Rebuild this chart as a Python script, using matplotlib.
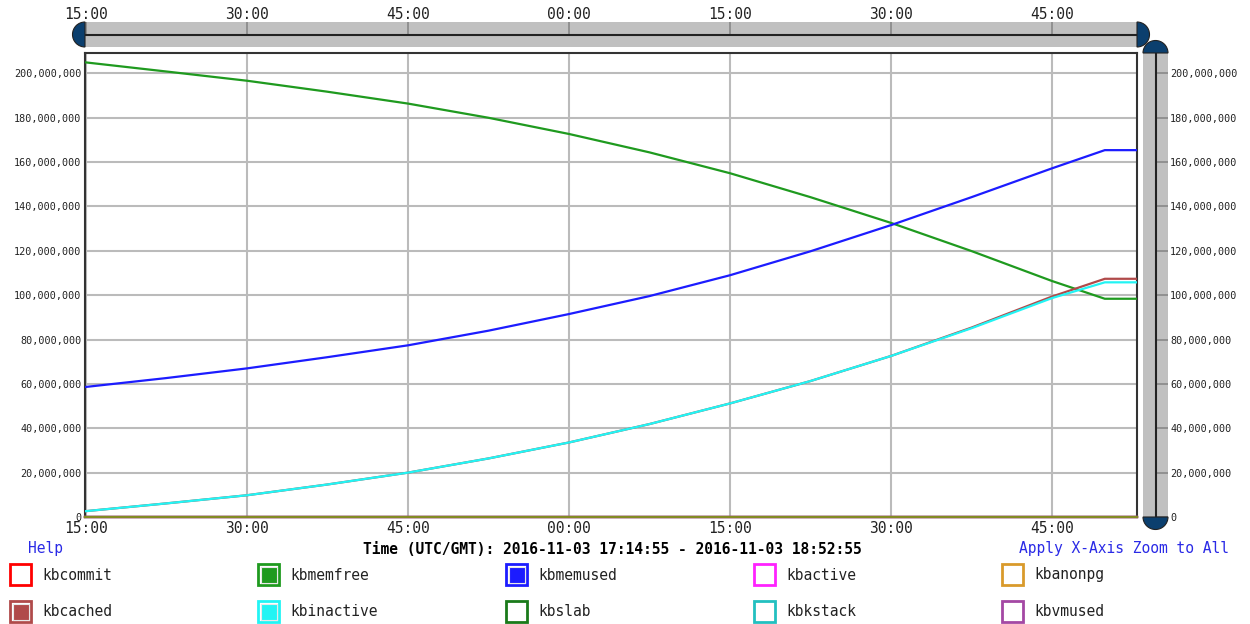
import matplotlib
matplotlib.use("Agg")
import matplotlib.pyplot as plt
import matplotlib.dates as mdates
import matplotlib.ticker as mticker
from matplotlib.patches import Wedge, Rectangle
import numpy as np
import pandas as pd

plt.rcParams["font.family"] = "DejaVu Sans Mono"

# sample times (UTC) and values in millions of kB
times = ["17:14:55", "17:22:25", "17:30:00", "17:37:25", "17:45:00", "17:52:30",
         "18:00:00", "18:07:30", "18:15:00", "18:22:30", "18:30:00", "18:37:30",
         "18:45:00", "18:49:55", "18:52:55"]
kbmemfree = [205.0, 200.9, 196.7, 191.8, 186.4, 180.0, 172.7, 164.4, 155.0, 144.2,
             132.6, 119.9, 106.4, 98.4, 98.4]
kbmemused = [58.6, 62.6, 67.0, 72.0, 77.4, 84.0, 91.5, 99.6, 109.0, 119.8,
             131.6, 144.2, 157.2, 165.4, 165.4]
kbcached = [2.6, 6.1, 9.8, 14.6, 20.0, 26.4, 33.6, 41.9, 51.2, 61.3,
            72.6, 85.4, 99.4, 107.4, 107.4]
kbinactive = [2.6, 6.1, 9.8, 14.6, 20.0, 26.4, 33.6, 41.9, 51.2, 61.3,
              72.6, 85.1, 98.7, 105.8, 105.8]
zeros = [0] * len(times)

names = ["kbcommit", "kbmemfree", "kbmemused", "kbactive", "kbanonpg",
         "kbcached", "kbinactive", "kbslab", "kbkstack", "kbvmused"]
colors = ["#ff0000", "#1f9a1f", "#1c1cff", "#ff22ff", "#d99a2b",
          "#b04a4a", "#22f4f4", "#1a7a1a", "#22c0c0", "#a448a4"]
series = {"kbcommit": zeros, "kbmemfree": kbmemfree, "kbmemused": kbmemused,
          "kbactive": zeros, "kbanonpg": zeros, "kbcached": kbcached,
          "kbinactive": kbinactive, "kbslab": zeros, "kbkstack": zeros,
          "kbvmused": zeros}

t = mdates.date2num(pd.to_datetime(["2016-11-03 " + s for s in times]))
t0 = mdates.date2num(pd.Timestamp("2016-11-03 17:14:55"))
t1 = mdates.date2num(pd.Timestamp("2016-11-03 18:52:55"))

W, H = 1250, 624
def frac(x0, y0, x1, y1):
    return [x0 / W, 1 - y1 / H, (x1 - x0) / W, (y1 - y0) / H]

grid_c = "#bbbbbb"
slider_c = "#c0c0c0"
handle_c = "#0b3f6e"

fig = plt.figure(figsize=(12.5, 6.24), dpi=100)
ax = fig.add_axes(frac(85, 53, 1137, 517))
ax_top = fig.add_axes(frac(85, 22, 1137, 47), sharex=ax)
ax_right = fig.add_axes(frac(1143, 53, 1168, 517), sharey=ax)

# main lines (zero-valued ones stack on the bottom edge)
draw_order = ["kbcommit", "kbactive", "kbkstack", "kbvmused",
              "kbmemfree", "kbmemused", "kbcached", "kbinactive",
              "kbanonpg", "kbslab"]
for n in draw_order:
    c = colors[names.index(n)]
    vals = np.array(series[n]) * 1e6
    nonzero = max(series[n]) > 0
    ax.plot(t, vals, color=c, lw=1.6, clip_on=nonzero, zorder=3,
            alpha=0.45 if n == "kbslab" else 1)

ax.set_xlim(t0, t1)
ax.set_ylim(0, 209.2e6)
ax.xaxis.set_major_locator(mdates.MinuteLocator(byminute=[0, 15, 30, 45]))
ax.xaxis.set_major_formatter(mdates.DateFormatter("%M:%S"))
ax.yaxis.set_major_locator(mticker.MultipleLocator(20e6))
ax.yaxis.set_major_formatter(mticker.FuncFormatter(lambda v, p: f"{v:,.0f}"))
ax.grid(color=grid_c, lw=1.5)
ax.set_axisbelow(True)
ax.tick_params(axis="x", length=0, pad=3, labelsize=10.5, colors="#222222")
ax.tick_params(axis="y", length=0, pad=2.5, labelsize=7.3, colors="#222222")
for s in ax.spines.values():
    s.set_color("#333333")
    s.set_linewidth(1.5)

# top slider
ax_top.set_facecolor(slider_c)
for s in ax_top.spines.values():
    s.set_visible(False)
ax_top.set_yticks([])
ax_top.axhline(0.5, color="#222222", lw=1.5)
ax_top.tick_params(axis="x", direction="in", length=9, width=1.2, color="#888888",
                   top=True, bottom=False, labeltop=True, labelbottom=False,
                   pad=0, labelsize=10.5, labelcolor="#222222")

# right slider
ax_right.set_facecolor(slider_c)
for s in ax_right.spines.values():
    s.set_visible(False)
ax_right.set_xticks([])
ax_right.axvline(0.5, color="#222222", lw=1.5)
ax_right.tick_params(axis="y", direction="in", length=9, width=1.2, color="#888888",
                     right=True, left=False, labelright=True, labelleft=False,
                     pad=1.5, labelsize=7.3, labelcolor="#222222")

# overlay in pixel coordinates: handles, footer texts, legend
ov = fig.add_axes([0, 0, 1, 1], zorder=10)
ov.set_xlim(0, W)
ov.set_ylim(H, 0)
ov.axis("off")
ov.patch.set_alpha(0)
hk = dict(fc=handle_c, ec="#222222", lw=0.8)
ov.add_patch(Wedge((85, 34.5), 12.5, 90, 270, **hk))
ov.add_patch(Wedge((1137, 34.5), 12.5, -90, 90, **hk))
ov.add_patch(Wedge((1155.5, 53), 12.5, 180, 360, **hk))
ov.add_patch(Wedge((1155.5, 517), 12.5, 0, 180, **hk))

ov.text(28, 549, "Help", color="#2a2ae6", fontsize=10.5, va="center")
ov.text(612, 549, "Time (UTC/GMT): 2016-11-03 17:14:55 - 2016-11-03 18:52:55",
        fontsize=10.5, fontweight="bold", ha="center", va="center")
ov.text(1229, 549, "Apply X-Axis Zoom to All", color="#2a2ae6",
        fontsize=10.5, ha="right", va="center")

for i, n in enumerate(names):
    row, col = divmod(i, 5)
    x0 = 10 + 248 * col
    y0 = 564 + 37 * row
    c = colors[i]
    filled = max(series[n]) > 0
    ov.add_patch(Rectangle((x0, y0), 21, 21, fc="white", ec=c, lw=2))
    if filled:
        ov.add_patch(Rectangle((x0 + 2.5, y0 + 2.5), 16, 16, fc=c, ec="#e8e8e8", lw=0.8))
    ov.text(x0 + 32, y0 + 11, n, fontsize=10.5, va="center", color="#222222")

fig.savefig("out.png", dpi=100)
